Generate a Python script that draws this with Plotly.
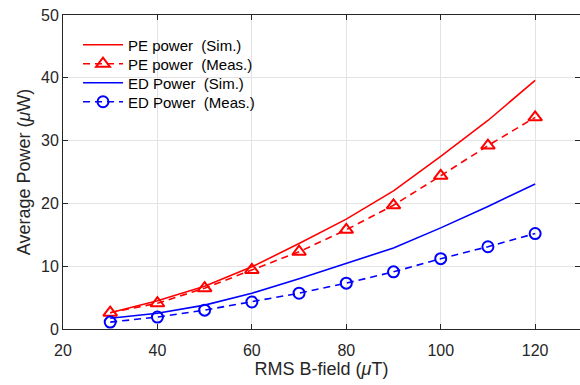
import plotly.graph_objects as go

b_field = [30, 40, 50, 60, 70, 80, 90, 100, 110, 120]
pe_sim = [2.6, 4.5, 6.8, 9.9, 13.6, 17.5, 22.0, 27.5, 33.2, 39.6]
pe_meas = [2.6, 4.1, 6.5, 9.4, 12.3, 15.8, 19.7, 24.4, 29.2, 33.7]
ed_sim = [1.7, 2.5, 3.8, 5.7, 8.0, 10.5, 12.9, 16.1, 19.5, 23.1]
ed_meas = [1.1, 1.9, 3.0, 4.3, 5.7, 7.3, 9.1, 11.2, 13.1, 15.2]

x_ticks = [20, 40, 60, 80, 100, 120]
y_ticks = [0, 10, 20, 30, 40, 50]

RED = "#ff0000"
BLUE = "#0000ff"
NB = "\u00a0"
FONT = "Liberation Sans, Arial, sans-serif"
AX = "#262626"

fig = go.Figure()
fig.add_trace(go.Scatter(x=b_field, y=pe_sim, mode="lines", name=f"PE power{NB}{NB}(Sim.)",
                         line=dict(color=RED, width=1.6), legend="legend"))
fig.add_trace(go.Scatter(x=b_field, y=pe_meas, mode="lines+markers", name=f"PE power{NB}{NB}(Meas.)",
                         line=dict(color=RED, width=1.6, dash="7px,5px"), legend="legend2",
                         marker=dict(symbol="triangle-up-open", size=12, color=RED, line=dict(width=2, color=RED))))
fig.add_trace(go.Scatter(x=b_field, y=ed_sim, mode="lines", name=f"ED Power{NB}{NB}(Sim.)",
                         line=dict(color=BLUE, width=1.6), legend="legend3"))
fig.add_trace(go.Scatter(x=b_field, y=ed_meas, mode="lines+markers", name=f"ED Power{NB}{NB}(Meas.)",
                         line=dict(color=BLUE, width=1.6, dash="7px,5px"), legend="legend4",
                         marker=dict(symbol="circle-open", size=11, color=BLUE, line=dict(width=2, color=BLUE))))
# invisible trace to provide right-side ticks
fig.add_trace(go.Scatter(x=[b_field[0]], y=[pe_sim[0]], yaxis="y2", mode="markers",
                         marker=dict(opacity=0), showlegend=False, hoverinfo="skip"))

def leg(ypx):
    return dict(x=0.029, y=(329 - ypx) / 314, xanchor="left", yanchor="middle",
                bgcolor="rgba(255,255,255,0)", font=dict(size=15, color="#000000", family=FONT),
                itemwidth=40)

fig.update_layout(
    width=580, height=385,
    margin=dict(l=63, r=0, t=15, b=56),
    paper_bgcolor="white", plot_bgcolor="white",
    font=dict(family=FONT, color=AX, size=16),
    xaxis=dict(range=[20, 129.5], tickvals=x_ticks, ticks="inside", ticklen=5, tickcolor=AX,
               showline=True, linecolor=AX, linewidth=1, mirror="ticks", automargin=False,
               showgrid=True, gridcolor="#e3e3e3", gridwidth=1, zeroline=False,
               tickfont=dict(size=16, color=AX), ticklabelstandoff=7,
               title=dict(text="RMS B-field (<i>μ</i>T)", font=dict(size=18, color=AX), standoff=3)),
    yaxis=dict(range=[0, 50], tickvals=y_ticks, ticks="inside", ticklen=5, tickcolor=AX,
               showline=True, linecolor=AX, linewidth=1, automargin=False,
               showgrid=True, gridcolor="#e3e3e3", gridwidth=1, zeroline=False,
               tickfont=dict(size=16, color=AX),
               title=dict(text="Average Power (<i>μ</i>W)", font=dict(size=18, color=AX), standoff=5)),
    yaxis2=dict(range=[0, 50], tickvals=y_ticks, overlaying="y", side="right", ticks="inside",
                ticklen=5, tickcolor=AX, showline=False, showgrid=False, showticklabels=False,
                zeroline=False, automargin=False),
    legend=leg(45), legend2=leg(64), legend3=leg(83), legend4=leg(102),
    showlegend=True,
)

fig.write_html("out.html", config={"displayModeBar": False})
with open("out.html", encoding="utf-8") as f:
    html = f.read()
html = html.replace("<body>", '<body style="margin:0;padding:0;overflow:hidden">', 1)
with open("out.html", "w", encoding="utf-8") as f:
    f.write(html)
